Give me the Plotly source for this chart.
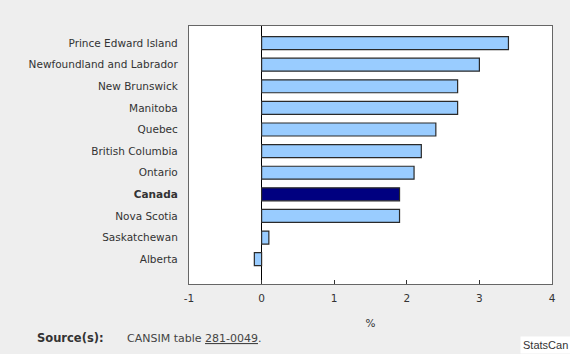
import plotly.graph_objects as go

regions = ["Prince Edward Island", "Newfoundland and Labrador", "New Brunswick",
           "Manitoba", "Quebec", "British Columbia", "Ontario", "Canada",
           "Nova Scotia", "Saskatchewan", "Alberta"]
values = [3.4, 3.0, 2.7, 2.7, 2.4, 2.2, 2.1, 1.9, 1.9, 0.1, -0.1]
x_ticks = [-1, 0, 1, 2, 3, 4]
x_tick_labels = ["-1", "0", "1", "2", "3", "4"]

highlight = "Canada"
colors = ["#000080" if r == highlight else "#99ccff" for r in regions]
tick_text = ["<b>%s</b>" % r if r == highlight else r for r in regions]
idx = list(range(len(regions)))

fig = go.Figure()
fig.add_trace(go.Bar(
    y=idx, x=values, orientation="h",
    marker=dict(color=colors, line=dict(color="#2a2a2a", width=1.2)),
    width=0.6, hoverinfo="x+y",
))

font = "DejaVu Sans"
fig.update_layout(
    width=570, height=354,
    margin=dict(l=189, r=18, t=26, b=70),
    paper_bgcolor="#eeeeee", plot_bgcolor="#ffffff",
    showlegend=False,
    font=dict(family=font, size=10.5, color="#333333"),
    xaxis=dict(range=[-1, 4], tickvals=x_ticks, ticktext=x_tick_labels,
               ticks="inside", ticklen=4, ticklabelstandoff=4,
               tickcolor="#333333", showgrid=False, zeroline=True,
               zerolinecolor="#000000", zerolinewidth=1,
               showline=True, linecolor="#666666", linewidth=1.2, mirror=True,
               title=dict(text="%", font=dict(size=10.5), standoff=16),
               tickfont=dict(size=10.5)),
    yaxis=dict(range=[11.15, -0.79], tickvals=idx, ticktext=tick_text,
               showgrid=False, zeroline=False, ticks="", ticklabelstandoff=8,
               showline=True, linecolor="#666666", linewidth=1.2, mirror=True,
               tickfont=dict(size=10.5)),
    annotations=[
        dict(xref="paper", yref="paper", x=-154/363, y=-54/258, xanchor="left",
             yanchor="middle", showarrow=False,
             text="<b>Source(s):</b>",
             font=dict(family=font, size=11.5, color="#333333")),
        dict(xref="paper", yref="paper", x=-64/363, y=-54/258, xanchor="left",
             yanchor="middle", showarrow=False,
             text="CANSIM table <span style='text-decoration:underline'>281-0049</span>.",
             font=dict(family=font, size=11, color="#444444")),
        dict(xref="paper", yref="paper", x=(570-189+1)/363, y=-70/258,
             xanchor="right", yanchor="bottom", showarrow=False,
             text="StatsCan", bgcolor="#ffffff", borderpad=2,
             font=dict(family="Liberation Sans", size=11, color="#333333")),
    ],
)

fig.write_html("out.html")
